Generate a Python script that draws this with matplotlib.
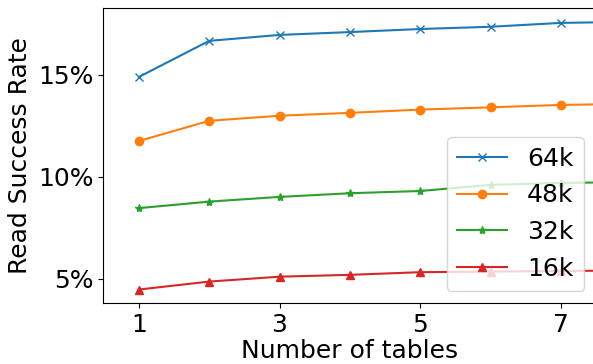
import matplotlib
matplotlib.use("Agg")
import matplotlib.pyplot as plt
from matplotlib.ticker import FuncFormatter

tables = [1, 2, 3, 4, 5, 6, 7, 8]
rate_64k = [14.9, 16.67, 16.96, 17.1, 17.25, 17.36, 17.55, 17.6]
rate_48k = [11.76, 12.75, 13.0, 13.14, 13.3, 13.41, 13.53, 13.58]
rate_32k = [8.47, 8.79, 9.02, 9.2, 9.31, 9.61, 9.71, 9.74]
rate_16k = [4.48, 4.87, 5.11, 5.2, 5.33, 5.36, 5.39, 5.41]
labels = ["64k", "48k", "32k", "16k"]
xticks = [1, 3, 5, 7]
yticks = [5, 10, 15]

fig = plt.figure(figsize=(5.93, 3.64), dpi=100)
ax = fig.add_axes([103/593, 1-303/364, 493/593, (303-8)/364])

ax.plot(tables, rate_64k, marker='x', color='#1f77b4', label=labels[0])
ax.plot(tables, rate_48k, marker='o', color='#ff7f0e', label=labels[1])
ax.plot(tables, rate_32k, marker='*', color='#2ca02c', label=labels[2])
ax.plot(tables, rate_16k, marker='^', color='#d62728', label=labels[3])

ax.set_xlim(0.49, 7.5)
ax.set_ylim(3.82, 18.28)
ax.set_xticks(xticks)
ax.set_yticks(yticks)
ax.yaxis.set_major_formatter(FuncFormatter(lambda v, p: f"{v:.0f}%"))
ax.tick_params(labelsize=18)
ax.set_xlabel("Number of tables", fontsize=18, labelpad=2)
ax.set_ylabel("Read Success Rate", fontsize=18)

ax.legend(fontsize=18, loc='lower right')

fig.savefig("out.png", dpi=100)
